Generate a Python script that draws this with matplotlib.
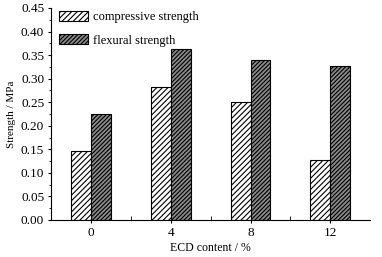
import matplotlib
matplotlib.use("Agg")
import matplotlib.pyplot as plt
import numpy as np
from matplotlib.ticker import MultipleLocator, FormatStrFormatter

plt.rcParams['font.family'] = ['Liberation Serif', 'DejaVu Serif']
plt.rcParams['hatch.linewidth'] = 0.8

categories = ['0', '4', '8', '12']
compressive = [0.147, 0.282, 0.250, 0.127]
flexural = [0.225, 0.363, 0.339, 0.326]

fig = plt.figure(figsize=(3.82, 2.57), dpi=100)
ax = fig.add_axes([0.134, 0.144, 0.835, 0.825])

x = np.arange(len(categories))
w = 0.25
ax.bar(x - w/2, compressive, w, facecolor='white', edgecolor='black', hatch='//////', linewidth=0.8, label='compressive strength')
ax.bar(x + w/2, flexural, w, facecolor='#8a8a8a', edgecolor='black', hatch='////////', linewidth=0.8, label='flexural strength')

ax.set_xlim(-0.5, 3.5)
ax.set_ylim(0, 0.45)
ax.set_xticks(x)
ax.set_xticklabels(categories)
ax.set_xticks([0.5, 1.5, 2.5], minor=True)
ax.yaxis.set_major_locator(MultipleLocator(0.05))
ax.yaxis.set_minor_locator(MultipleLocator(0.025))
ax.yaxis.set_major_formatter(FormatStrFormatter('%.2f'))
ax.spines['top'].set_visible(False)
ax.spines['right'].set_visible(False)
ax.tick_params(axis='y', which='major', direction='out', length=2.5, labelsize=9.5, pad=2.5)
ax.tick_params(axis='y', which='minor', direction='out', length=1.5)
ax.tick_params(axis='x', which='major', direction='out', length=2, labelsize=9.5, pad=3)
ax.tick_params(axis='x', which='minor', direction='in', length=3)
ax.set_xlabel('ECD content / %', fontsize=8.5, labelpad=2.5)
ax.set_ylabel('Strength / MPa', fontsize=8, labelpad=3.5)

ax.legend(loc='upper left', frameon=False, fontsize=9, handlelength=2.3, handleheight=0.85,
          labelspacing=0.9, borderaxespad=0.0, bbox_to_anchor=(0.01, 1.01), handletextpad=0.4)

fig.savefig('out.png', dpi=100)
